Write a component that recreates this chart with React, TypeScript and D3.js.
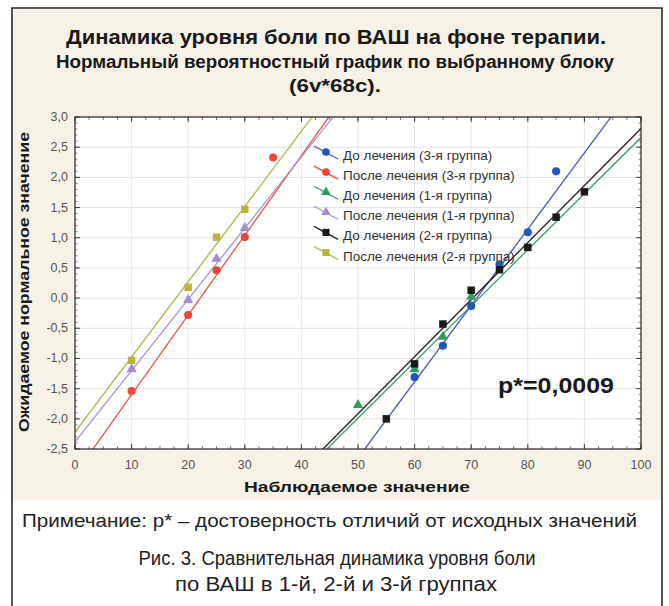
import React from "react";
import * as d3 from "d3";

// ---- data ----
const seriesNames = [
  "До лечения (3-я группа)",
  "После лечения (3-я группа)",
  "До лечения (1-я группа)",
  "После лечения (1-я группа)",
  "До лечения (2-я группа)",
  "После лечения (2-я группа)",
];
const seriesColors = ["#2457b3", "#e8473a", "#2e9e5b", "#a78ccf", "#1a1a1a", "#b8b63a"];
const lineColors = ["#4a55b8", "#e8553f", "#3a9a64", "#a994d2", "#222222", "#b3b04a"];
const seriesSymbols = ["circle", "circle", "triangle", "triangle", "square", "square"];

const before3X = [60, 65, 70, 75, 80, 85];
const before3Y = [-1.31, -0.79, -0.13, 0.56, 1.09, 2.1];
const after3X = [10, 20, 25, 30, 35];
const after3Y = [-1.54, -0.28, 0.46, 1.01, 2.33];
const before1X = [50, 60, 65, 70];
const before1Y = [-1.77, -1.18, -0.64, 0.02];
const after1X = [10, 20, 25, 30];
const after1Y = [-1.18, -0.03, 0.65, 1.16];
const before2X = [55, 60, 65, 70, 75, 80, 85, 90];
const before2Y = [-2.0, -1.09, -0.43, 0.13, 0.47, 0.84, 1.34, 1.76];
const after2X = [10, 20, 25, 30];
const after2Y = [-1.03, 0.18, 1.01, 1.47];

// fitted lines: y = slope * x + intercept
const fitSlopes = [0.1264, 0.132, 0.093, 0.118, 0.0945, 0.1246];
const fitIntercepts = [-8.97, -2.92, -6.64, -2.38, -6.64, -2.22];

const xTicks = [0, 10, 20, 30, 40, 50, 60, 70, 80, 90, 100];
const yTicks = [-2.5, -2.0, -1.5, -1.0, -0.5, 0.0, 0.5, 1.0, 1.5, 2.0, 2.5, 3.0];

const titleLines = [
  "Динамика уровня боли по ВАШ на фоне терапии.",
  "Нормальный вероятностный график по выбранному блоку",
  "(6v*68c).",
];
const xAxisTitle = "Наблюдаемое значение";
const yAxisTitle = "Ожидаемое нормальное значение";
const pLabel = "p*=0,0009";
const noteText = "Примечание: p* – достоверность отличий от исходных значений";
const captionLines = [
  "Рис. 3. Сравнительная динамика уровня боли",
  "по ВАШ в 1-й, 2-й и 3-й группах",
];

const seriesX = [before3X, after3X, before1X, after1X, before2X, after2X];
const seriesY = [before3Y, after3Y, before1Y, after1Y, before2Y, after2Y];

const W = 669;
const H = 606;
const FONT = "'Liberation Sans', Arial, sans-serif";

export default function App() {
  const x = d3.scaleLinear().domain([0, 100]).range([75, 641]);
  const y = d3.scaleLinear().domain([-2.5, 3]).range([449, 117]);
  const [x0, x1] = x.range();
  const [y0, y1] = y.range();

  const symType = (s: string) =>
    s === "circle" ? d3.symbolCircle : s === "triangle" ? d3.symbolTriangle : d3.symbolSquare;
  const symSize = (s: string) => (s === "circle" ? 52 : s === "triangle" ? 46 : 56);

  const xMinor = d3.range(0, 100.01, 2.5);
  const yMinor = d3.range(-2.5, 3.001, 0.1);

  const fmt = (v: number) => v.toFixed(1).replace(".", ",");

  return (
    <svg width={W} height={H} style={{ display: "block", position: "absolute", left: 0, top: 0 }}>
      <defs>
        <clipPath id="plotclip">
          <rect x={x0} y={y1} width={x1 - x0} height={y0 - y1} />
        </clipPath>
      </defs>
      <rect x={0} y={0} width={W} height={H} fill="#ffffff" />
      {/* frame */}
      <rect x={12} y={8} width={650} height={492} fill="#f6f2e7" />
      <path d={`M12,${H} V8 H662 V${H}`} fill="none" stroke="#2b2b2b" strokeWidth={1.6} />

      {/* titles */}
      <text x={336} y={44} textAnchor="middle" fontFamily={FONT} fontWeight="bold" fontSize={21}
        fill="#1a1a1a" textLength={540} lengthAdjust="spacingAndGlyphs">{titleLines[0]}</text>
      <text x={335} y={68} textAnchor="middle" fontFamily={FONT} fontWeight="bold" fontSize={18}
        fill="#1a1a1a" textLength={558} lengthAdjust="spacingAndGlyphs">{titleLines[1]}</text>
      <text x={335} y={92} textAnchor="middle" fontFamily={FONT} fontWeight="bold" fontSize={18}
        fill="#1a1a1a" textLength={92} lengthAdjust="spacingAndGlyphs">{titleLines[2]}</text>

      {/* plot area */}
      <rect x={x0} y={y1} width={x1 - x0} height={y0 - y1} fill="#ffffff" />
      {xTicks.slice(1, -1).map((t) => (
        <line key={"gx" + t} x1={x(t)} x2={x(t)} y1={y1} y2={y0} stroke="#e6e6e6" strokeWidth={1} />
      ))}
      {yTicks.slice(1, -1).map((t) => (
        <line key={"gy" + t} x1={x0} x2={x1} y1={y(t)} y2={y(t)} stroke="#e3e3e3" strokeWidth={1} />
      ))}

      {/* minor ticks */}
      {xMinor.map((t, i) => (
        <g key={"xm" + i}>
          <line x1={x(t)} x2={x(t)} y1={y0} y2={y0 - 3} stroke="#555" strokeWidth={0.8} />
          <line x1={x(t)} x2={x(t)} y1={y1} y2={y1 + 3} stroke="#555" strokeWidth={0.8} />
        </g>
      ))}
      {yMinor.map((t, i) => (
        <g key={"ym" + i}>
          <line x1={x0} x2={x0 + 2.5} y1={y(t)} y2={y(t)} stroke="#555" strokeWidth={0.7} />
          <line x1={x1} x2={x1 - 2.5} y1={y(t)} y2={y(t)} stroke="#555" strokeWidth={0.7} />
        </g>
      ))}
      {xTicks.map((t) => (
        <g key={"xt" + t}>
          <line x1={x(t)} x2={x(t)} y1={y0} y2={y0 - 5} stroke="#444" strokeWidth={1} />
          <line x1={x(t)} x2={x(t)} y1={y1} y2={y1 + 5} stroke="#444" strokeWidth={1} />
          <text x={x(t)} y={469} textAnchor="middle" fontFamily={FONT} fontSize={12.5} fill="#555">{t}</text>
        </g>
      ))}
      {yTicks.map((t) => (
        <g key={"yt" + t}>
          <line x1={x0} x2={x0 + 5} y1={y(t)} y2={y(t)} stroke="#444" strokeWidth={1} />
          <line x1={x1} x2={x1 - 5} y1={y(t)} y2={y(t)} stroke="#444" strokeWidth={1} />
          <text x={68} y={y(t) + 4} textAnchor="end" fontFamily={FONT} fontSize={12.5} fill="#555">{fmt(t)}</text>
        </g>
      ))}

      {/* fit lines */}
      <g clipPath="url(#plotclip)">
        {fitSlopes.map((s, i) => {
          const xs = [0, 100];
          const l = d3
            .line<number>()
            .x((d) => x(d))
            .y((d) => y(s * d + fitIntercepts[i]));
          return <path key={"fit" + i} d={l(xs) || ""} fill="none" stroke={lineColors[i]} strokeWidth={1.3} />;
        })}
      </g>

      {/* points */}
      <g clipPath="url(#plotclip)">
        {seriesX.map((xs, i) =>
          xs.map((xv, j) => (
            <path
              key={"pt" + i + "-" + j}
              d={d3.symbol().type(symType(seriesSymbols[i])).size(symSize(seriesSymbols[i]))() || ""}
              transform={`translate(${x(xv)},${y(seriesY[i][j])})`}
              fill={seriesColors[i]}
            />
          ))
        )}
      </g>

      <rect x={x0} y={y1} width={x1 - x0} height={y0 - y1} fill="none" stroke="#333" strokeWidth={1.3} />

      {/* legend */}
      {seriesNames.map((n, i) => {
        const cy = 155 + i * 20.1;
        return (
          <g key={"lg" + i}>
            <line x1={314} y1={cy - 9} x2={338} y2={cy + 4} stroke={lineColors[i]} strokeWidth={1.3} />
            <path
              d={d3.symbol().type(symType(seriesSymbols[i])).size(symSize(seriesSymbols[i]) * 0.9)() || ""}
              transform={`translate(326,${cy - 3})`}
              fill={seriesColors[i]}
            />
            <text x={343} y={cy + 5} fontFamily={FONT} fontSize={13.5} fill="#333">{n}</text>
          </g>
        );
      })}

      <text x={498} y={393} fontFamily={FONT} fontWeight="bold" fontSize={22} fill="#1a1a1a"
        textLength={116} lengthAdjust="spacingAndGlyphs">{pLabel}</text>

      {/* axis titles */}
      <text x={357} y={492} textAnchor="middle" fontFamily={FONT} fontWeight="bold" fontSize={14.5}
        fill="#1a1a1a" textLength={226} lengthAdjust="spacingAndGlyphs">{xAxisTitle}</text>
      <text transform="translate(29,282) rotate(-90)" textAnchor="middle" fontFamily={FONT} fontWeight="bold"
        fontSize={14.5} fill="#1a1a1a" textLength={300} lengthAdjust="spacingAndGlyphs">{yAxisTitle}</text>

      {/* notes */}
      <text x={22} y={527} fontFamily={FONT} fontSize={18} fill="#222"
        textLength={615} lengthAdjust="spacingAndGlyphs">{noteText}</text>
      <text x={337} y={565} textAnchor="middle" fontFamily={FONT} fontSize={20} fill="#222"
        textLength={397} lengthAdjust="spacingAndGlyphs">{captionLines[0]}</text>
      <text x={336} y={591} textAnchor="middle" fontFamily={FONT} fontSize={20} fill="#222"
        textLength={322} lengthAdjust="spacingAndGlyphs">{captionLines[1]}</text>
    </svg>
  );
}
